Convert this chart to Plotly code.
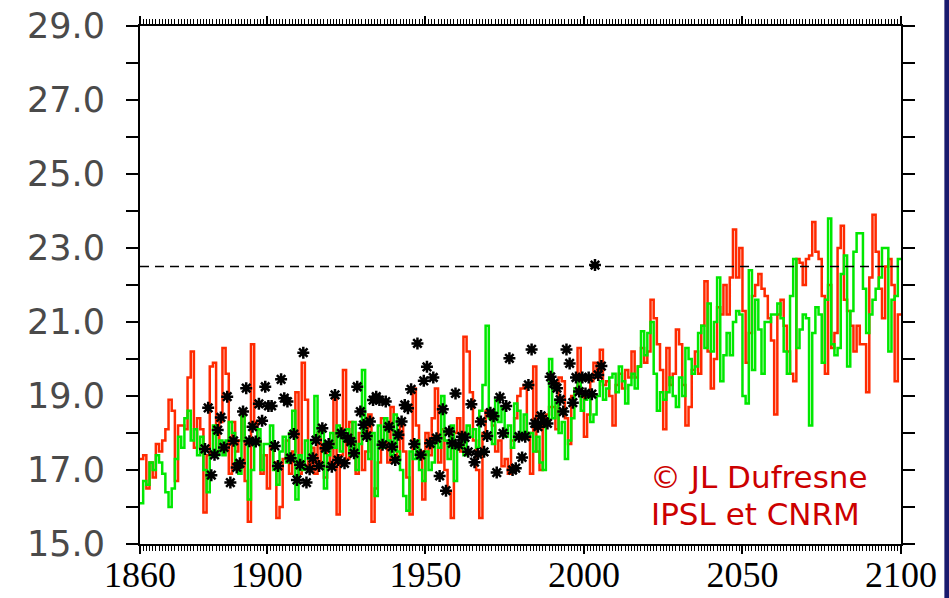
import plotly.graph_objects as go

# ---------------- data ----------------
model_years = list(range(1860, 2100))

red_series = [
    # 1860-1899
    17.3, 17.4, 16.5, 17.2, 16.8, 17.7, 17.5, 17.8, 18.1, 18.9,
    18.6, 16.7, 18.2, 18.2, 18.1, 19.5, 20.2, 17.6, 18.4, 18.1,
    15.85, 17.4, 19.8, 19.9, 17.5, 18.3, 20.3, 19.6, 16.9, 18.3,
    17.5, 17.8, 18.5, 16.7, 15.6, 20.4, 18.3, 17.8, 16.9, 17.4,
    # 1900-1939
    16.5, 17.6, 17.2, 15.7, 16.0, 17.3, 17.8, 16.9, 17.5, 19.1,
    16.9, 19.9, 18.9, 17.1, 17.6, 16.9, 18.0, 17.2, 16.8, 17.7,
    17.1, 19.0, 15.8, 17.4, 19.7, 17.3, 18.3, 17.7, 16.9, 18.0,
    17.0, 17.5, 18.5, 15.6, 16.5, 17.2, 18.4, 18.1, 17.2, 18.7,
    # 1940-1979
    18.0, 17.3, 18.2, 17.5, 16.8, 15.8, 19.2, 18.2, 17.5, 16.2,
    18.0, 17.4, 18.4, 19.2, 17.2, 18.1, 17.0, 16.4, 15.7, 18.0,
    18.4, 17.5, 20.6, 20.2, 19.1, 17.8, 17.0, 15.7, 18.0, 18.6,
    18.5, 18.2, 17.5, 17.8, 17.1, 17.3, 16.9, 17.8, 18.4, 19.0,
    # 1980-2019
    19.2, 19.3, 18.0, 16.9, 19.8, 17.5, 17.0, 18.3, 18.5, 18.7,
    18.7, 18.1, 19.5, 19.4, 18.4, 17.7, 19.0, 19.2, 20.3, 19.0,
    17.9, 18.5, 19.4, 19.9, 19.5, 20.25, 19.3, 19.4, 19.0, 18.2,
    19.3, 19.6, 19.2, 19.7, 19.5, 20.2, 19.5, 19.8, 20.3, 19.9,
    # 2020-2059
    20.2, 21.6, 21.1, 20.4, 19.7, 18.1, 20.3, 19.3, 19.6, 20.8,
    20.4, 19.3, 18.2, 18.7, 19.7, 20.2, 19.6, 20.9, 22.1, 20.2,
    19.2, 20.0, 21.4, 21.2, 22.0, 21.2, 22.2, 23.5, 22.2, 23.0,
    21.3, 19.9, 20.7, 21.7, 22.0, 22.3, 21.9, 21.7, 21.1, 20.5,
    # 2060-2099
    18.5, 21.2, 21.6, 20.9, 20.2, 19.6, 19.4, 22.7, 22.6, 22.0,
    22.7, 22.8, 23.7, 22.9, 22.7, 21.7, 19.6, 22.0, 20.3, 20.7,
    23.0, 23.6, 21.6, 21.3, 20.9, 20.2, 20.9, 20.4, 20.4, 19.1,
    22.2, 23.9, 22.9, 21.9, 21.1, 22.5, 22.7, 22.0, 19.4, 21.2,
]

green_series = [
    # 1860-1899
    16.1, 16.7, 16.6, 17.2, 17.0, 17.4, 17.2, 16.9, 16.4, 16.0,
    16.5, 17.3, 17.9, 17.6, 18.4, 18.6, 17.8, 18.1, 17.4, 17.9,
    17.0, 16.4, 17.4, 18.2, 17.4, 17.8, 17.4, 17.8, 18.3, 18.0,
    17.1, 16.9, 18.5, 17.8, 16.2, 17.0, 17.7, 18.1, 17.0, 17.7,
    # 1900-1939
    17.7, 18.2, 17.0, 16.6, 17.5, 17.9, 17.2, 18.0, 18.6, 16.2,
    17.4, 17.0, 17.8, 17.3, 17.8, 19.0, 17.9, 18.1, 16.5, 17.4,
    18.0, 17.6, 18.2, 17.5, 17.9, 18.1, 17.4, 18.3, 17.0, 17.7,
    19.7, 17.9, 17.3, 18.0, 16.3, 18.2, 17.6, 18.4, 17.8, 17.4,
    # 1940-1979
    18.5, 17.5, 17.0, 16.3, 15.9, 17.5, 17.3, 17.8, 17.0, 16.7,
    17.5, 17.0, 17.2, 17.9, 17.6, 19.0, 17.8, 17.3, 18.2, 16.7,
    17.6, 17.9, 17.4, 18.2, 17.9, 18.1, 17.6, 18.6, 19.3, 20.9,
    18.4, 17.7, 18.9, 18.3, 18.7, 17.9, 18.2, 17.6, 18.8, 18.6,
    # 1980-2019
    17.9, 18.5, 17.9, 18.0, 17.5, 17.9, 17.2, 17.0, 18.3, 20.0,
    18.4, 18.9, 18.0, 18.3, 17.3, 17.8, 18.4, 19.2, 19.5, 18.6,
    18.9, 19.0, 18.3, 18.5, 19.0, 19.4, 18.9, 19.2, 19.5, 19.6,
    19.1, 19.8, 19.4, 18.8, 19.3, 19.6, 19.2, 19.8, 20.75, 20.1,
    # 2020-2059
    20.7, 21.0, 19.6, 18.6, 19.1, 18.9, 19.1, 19.5, 19.0, 18.7,
    19.5, 19.0, 20.3, 20.0, 19.6, 19.8, 20.7, 20.9, 20.3, 21.5,
    20.2, 21.0, 22.2, 19.4, 20.1, 20.7, 20.1, 21.0, 21.3, 21.2,
    19.0, 18.8, 22.4, 19.7, 21.6, 20.8, 19.6, 21.0, 21.0, 21.2,
    # 2060-2099
    21.2, 21.5, 21.1, 20.2, 19.6, 21.7, 22.7, 20.3, 20.8, 21.2,
    21.1, 18.2, 20.7, 21.4, 21.2, 19.9, 21.6, 23.8, 20.4, 20.1,
    20.3, 22.3, 22.8, 19.8, 21.3, 22.9, 23.4, 23.4, 21.9, 20.7,
    21.2, 21.6, 21.9, 22.2, 23.0, 23.0, 20.2, 21.6, 21.7, 22.7,
]

obs_years = list(range(1880, 2006))
obs_values = [
    # 1880-1899
    17.57, 18.68, 16.86, 17.41, 18.08, 18.42, 17.61, 18.98, 16.66, 17.79,
    17.07, 17.18, 18.58, 19.21, 17.78, 18.17, 17.77, 18.79, 18.33, 19.25,
    # 1900-1919
    18.73, 18.73, 17.65, 17.11, 19.45, 18.94, 18.85, 17.32, 17.97, 16.73,
    17.14, 20.17, 16.66, 17.02, 17.32, 17.81, 17.11, 18.13, 17.59, 17.70,
    # 1920-1939
    17.09, 19.03, 17.27, 17.99, 17.18, 17.86, 17.77, 17.45, 19.25, 18.58,
    18.22, 17.92, 18.31, 18.89, 18.98, 18.89, 17.68, 18.85, 18.17, 17.63,
    # 1940-1959
    17.27, 17.95, 18.31, 18.76, 18.67, 19.18, 17.70, 20.42, 17.41, 19.41,
    19.79, 17.72, 19.50, 17.86, 16.84, 18.64, 16.44, 18.04, 17.72, 19.07,
    # 1960-1979
    17.68, 17.90, 17.88, 17.49, 18.78, 17.21, 17.43, 18.31, 17.49, 17.92,
    18.55, 18.45, 16.93, 18.96, 17.99, 18.73, 20.02, 17.00, 17.05, 17.90,
    # 1980-1999
    17.34, 17.90, 19.30, 20.26, 18.26, 18.17, 18.46, 18.30, 18.26, 19.52,
    19.34, 19.21, 18.90, 18.58, 20.26, 19.88, 18.82, 19.50, 19.12, 19.50,
    # 2000-2005
    19.07, 19.50, 19.05, 22.54, 19.57, 19.81,
]

threshold = 22.5
y_tick_values = [15, 17, 19, 21, 23, 25, 27, 29]
y_tick_labels = ["15.0", "17.0", "19.0", "21.0", "23.0", "25.0", "27.0", "29.0"]
x_tick_values = [1860, 1900, 1950, 2000, 2050, 2100]
x_tick_labels = ["1860", "1900", "1950", "2000", "2050", "2100"]
credit_lines = ["© JL Dufresne", "IPSL et CNRM"]

# ---------------- figure ----------------
end_year = model_years[-1] + 1
step_x = model_years + [end_year]

fig = go.Figure()
fig.add_trace(go.Scatter(
    x=step_x, y=red_series + [red_series[-1]], mode="lines",
    line=dict(color="#ff2a00", width=2.5, shape="hv"), hoverinfo="skip",
))
fig.add_trace(go.Scatter(
    x=step_x, y=green_series + [green_series[-1]], mode="lines",
    line=dict(color="#00e800", width=2.5, shape="hv"), hoverinfo="skip",
))
fig.add_trace(go.Scatter(
    x=[y + 0.5 for y in obs_years], y=obs_values, mode="markers",
    marker=dict(symbol="asterisk-open", size=10, color="black",
                line=dict(width=2.5, color="black")),
))

fig.add_hline(y=threshold, line=dict(color="black", width=1.5, dash="9px,6px"))

axis_common = dict(showgrid=False, zeroline=False, showline=True,
                   linecolor="black", linewidth=2, mirror="ticks",
                   ticks="outside", tickcolor="black", tickwidth=1.5,
                   automargin=False)

fig.update_xaxes(
    range=[model_years[0], end_year], tickvals=x_tick_values, ticktext=x_tick_labels,
    ticklen=8, ticklabelstandoff=-10,
    minor=dict(dtick=1, ticks="outside", ticklen=5, tickcolor="black", tickwidth=1),
    tickfont=dict(family="Liberation Serif", size=36, color="black"),
    **axis_common,
)
fig.update_yaxes(
    range=[15, 29], tickvals=y_tick_values, ticktext=y_tick_labels,
    ticklen=12, ticklabelstandoff=14,
    minor=dict(dtick=1, tick0=15, ticks="outside", ticklen=12, tickcolor="black", tickwidth=1.5),
    tickfont=dict(family="DejaVu Sans", size=35, color="#4a4a4a"),
    **axis_common,
)

fig.add_annotation(xref="paper", yref="paper", x=0.667, y=0.129, xanchor="left",
                   yanchor="middle", text=credit_lines[0], showarrow=False,
                   font=dict(family="DejaVu Sans", size=31, color="#cc0000"))
fig.add_annotation(xref="paper", yref="paper", x=0.669, y=0.058, xanchor="left",
                   yanchor="middle", text=credit_lines[1], showarrow=False,
                   font=dict(family="DejaVu Sans", size=31, color="#cc0000"))

# navy edge strip on the right of the picture
fig.add_shape(type="rect", xref="paper", yref="paper", x0=1.057, x1=1.2,
              y0=-0.3, y1=1.3, fillcolor="#1a1a6e", line=dict(width=0), layer="below")

fig.update_layout(
    width=949, height=598, showlegend=False,
    margin=dict(l=140, r=48, t=26, b=54),
    plot_bgcolor="white", paper_bgcolor="white",
)

fig.write_html("out.html")
